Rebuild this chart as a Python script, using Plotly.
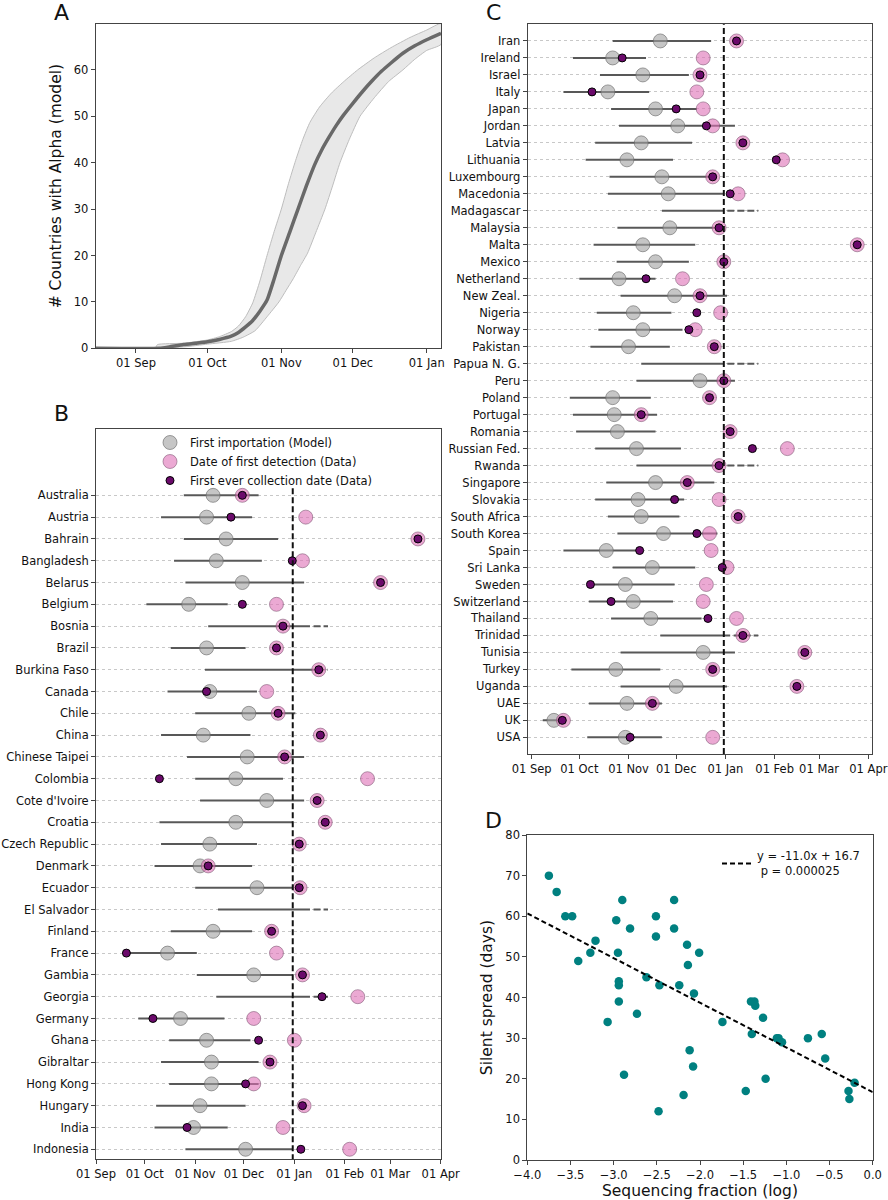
import numpy as np
import pandas as pd
import plotly.graph_objects as go

BASE = pd.Timestamp("2020-09-01")  # day 0 for all "days" arrays below

# ---------------- Panel A: countries with Alpha (model) ----------------
a_median_days = [-17, 10, 14, 20, 25, 30, 35, 40, 43, 46, 49, 52, 55, 58, 61, 64.5, 68, 71.5, 75, 78, 81, 84, 87,
                 91, 95, 99, 103, 107, 112, 117, 122, 128]
a_median = [0, 0, 0.3, 0.8, 1.1, 1.4, 1.9, 2.6, 3.4, 4.6, 6, 8, 10.4, 15, 20, 25, 30, 35, 39.6, 42.8, 45.5, 48,
            50.2, 52.8, 55.3, 57.6, 59.7, 61.5, 63.6, 65.2, 66.5, 67.9]
a_upper_days = [-17, 8, 9, 20, 30, 35, 40, 43, 46, 49, 52, 55, 58, 61, 64, 67, 70, 73, 77, 82, 87, 93, 100, 107,
                115, 122, 128]
a_upper = [0, 0, 0.8, 1.1, 1.8, 2.5, 3.6, 4.8, 6.8, 9.8, 14.5, 20, 25.2, 30, 35.5, 40.5, 45, 48.7, 52, 55, 57.4,
           60, 62.6, 64.8, 67, 68.6, 70]
a_lower_days = [-17, 20, 30, 40, 45, 50, 55, 60, 63, 66, 69, 72, 75.5, 79.3, 82.5, 85.6, 89.5, 94, 100, 106, 112,
                117, 122, 128]
a_lower = [0, 0.3, 0.9, 1.5, 2.4, 3.8, 6.8, 10, 12.5, 15, 17.8, 20.5, 25, 30, 35, 40, 45, 50, 54, 57.5, 60, 62.3,
           64.2, 65.5]

# ---------------- Panel B ----------------
b_countries = ["Australia", "Austria", "Bahrain", "Bangladesh", "Belarus", "Belgium", "Bosnia", "Brazil",
               "Burkina Faso", "Canada", "Chile", "China", "Chinese Taipei", "Colombia", "Cote d'Ivoire",
               "Croatia", "Czech Republic", "Denmark", "Ecuador", "El Salvador", "Finland", "France", "Gambia",
               "Georgia", "Germany", "Ghana", "Gibraltar", "Hong Kong", "Hungary", "India", "Indonesia"]
b_model = [72, 68, 80, 74, 90, 57, None, 68, None, 70, 94, 66, 93, 86, 105, 86, 70, 64, 99, None, 72, 44, 97,
           None, 52, 68, 71, 71, 64, 60, 92]
b_ci_lo = [54, 40, 54, 48, 55, 31, 69, 46, 67, 44, 61, 40, 56, 61, 64, 39, 40, 36, 61, 75, 46, 19, 62, 74, 26,
           45, 40, 45, 37, 36, 55]
b_ci_hi = [100, 96, 112, 102, 128, 81, 131.6, 92, 134, 99, 122.6, 95, 128, 115, 128, 121, 99, 96, 121, 131.6,
           96, 62, 121, 131.6, 79, 95, 100, 100, 92, 81, 121]
b_ci_ext = [None, None, None, None, None, None, 142.7, None, 142.7, None, None, None, None, None, None, None,
            None, None, None, 142.7, None, None, None, 142.7, None, None, None, None, None, None, None]
b_detect = [90, 129, 198, 127, 175, 111, 115, 111, 137, 105, 112, 138, 116, 167, 136, 141, 125, 69, 125.5, None,
            108, 111, 127, 161, 97, 122, 107, 97, 128, 115, 156]
b_collect = [90, 83, 198, 120.7, 175, 90, 115, 111, 137, 68, 112, 138, 116, 39, 136, 141, 125, 69, 125, None,
             108, 18.7, 127, 139, 35, 100, 107, 92, 127, 56, 126]

# ---------------- Panel C ----------------
c_countries = ["Iran", "Ireland", "Israel", "Italy", "Japan", "Jordan", "Latvia", "Lithuania", "Luxembourg",
               "Macedonia", "Madagascar", "Malaysia", "Malta", "Mexico", "Netherland", "New Zeal.", "Nigeria",
               "Norway", "Pakistan", "Papua N. G.", "Peru", "Poland", "Portugal", "Romania", "Russian Fed.",
               "Rwanda", "Singapore", "Slovakia", "South Africa", "South Korea", "Spain", "Sri Lanka", "Sweden",
               "Switzerland", "Thailand", "Trinidad", "Tunisia", "Turkey", "Uganda", "UAE", "UK", "USA"]
c_model = [81, 51, 70, 48, 78, 92, 69, 60, 82, 86, None, 87, 70, 78, 55, 90, 64, 70, 61, None, 106, 51, 52, 54,
           66, None, 78, 67, 69, 83, 47, 76, 59, 64, 75, None, 108, 53, 91, 60, 14, 59]
c_ci_lo = [51, 26, 43, 20, 50, 55, 40, 34, 49, 48, 82, 54, 39, 53.5, 30, 56, 41, 42, 37, 69, 66, 24, 26, 28, 40,
           66, 47, 40, 48, 54, 20, 51, 37, 36, 50, 81, 56, 25, 56, 36, 7, 35]
c_ci_hi = [113, 72, 99, 74, 104, 128, 101, 89, 112, 121, 121, 121, 103, 99, 78, 123, 88, 95, 87, 121, 128, 75,
           79, 78, 94, 121, 115, 96, 93, 117, 68, 103, 90, 89, 107, 125, 128, 81, 123, 82, 19, 82]
c_ci_ext = [None] * 10 + [142.7] + [None] * 8 + [142.7] + [None] * 5 + [142.7] + [None] * 9 + [142.7] + [None] * 6
c_detect = [129, 108, 106, 104, 108, 114, 133, 158, 114, 130, None, 118, 205, 121, 95, 106, 119, 103, 115, None,
            121, 112, 69, 125, 161, 118, 98, 118, 130, 112, 113, 123, 110, 108, 129, 133, 172, 114, 167, 76, 20, 114]
c_collect = [129, 57, 106, 38, 91, 110, 133, 154, 114, 125, None, 118, 205, 121, 72, 106, 104, 99, 115, None,
             121, 112, 69, 125, 139, 118, 98, 90, 130, 104, 68, 120, 37, 50, 111, 133, 172, 114, 167, 76, 19.3, 62]

cutoff_day = 121  # vertical dashed reference (31 Dec)

# ---------------- Panel D ----------------
d_seqfrac = [-3.75, -3.66, -3.56, -3.48, -3.41, -3.27, -3.21, -3.07, -2.97, -2.95, -2.94, -2.94, -2.94, -2.90,
             -2.88, -2.81, -2.73, -2.62, -2.51, -2.51, -2.48, -2.47, -2.30, -2.30, -2.24, -2.19, -2.15, -2.14,
             -2.12, -2.08, -2.07, -2.01, -1.74, -1.47, -1.41, -1.40, -1.37, -1.36, -1.27, -1.24, -1.11, -1.09,
             -1.05, -0.75, -0.59, -0.55, -0.28, -0.27, -0.21]
d_silent = [70, 66, 60, 60, 49, 51, 54, 34, 59, 51, 44, 43, 39, 64, 21, 57, 36, 45, 60, 55, 12, 43, 64, 57, 43,
            16, 53, 48, 27, 23, 41, 51, 34, 17, 39, 31, 39, 38, 35, 20, 30, 30, 29, 30, 31, 25, 17, 15, 19]
d_slope, d_intercept = -11.0, 16.7
d_pvalue = "0.000025"
d_xfit = [-4.0, 0.0]


def to_dates(days):
    return [None if d is None else BASE + pd.Timedelta(days=float(d)) for d in days]


FONT = "DejaVu Sans"
GRAY_FILL = "rgba(160,160,160,0.6)"
GRAY_EDGE = "rgba(100,100,100,0.6)"
PINK_FILL = "rgba(222,112,182,0.6)"
PINK_EDGE = "rgba(120,80,110,0.55)"
PURPLE = "#6b0a6b"
CI_COLOR = "#585858"

fig = go.Figure()

# ---- Panel A
poly_days = list(a_upper_days) + list(a_lower_days[::-1])
poly_vals = list(a_upper) + list(a_lower[::-1])
fig.add_trace(go.Scatter(x=to_dates(poly_days), y=poly_vals, fill="toself", fillcolor="#e8e8e8",
                         line=dict(color="#bdbdbd", width=1, shape="spline", smoothing=0.5), mode="lines",
                         showlegend=False, xaxis="x", yaxis="y"))
fig.add_trace(go.Scatter(x=to_dates(a_median_days), y=a_median, mode="lines",
                         line=dict(color="#696969", width=3.5, shape="spline", smoothing=0.5),
                         showlegend=False, xaxis="x", yaxis="y"))


def panel_traces(countries, model, lo, hi, ext, detect, collect, xa, ya, legend):
    n = len(countries)
    sx, sy, dx, dy = [], [], [], []
    for i in range(n):
        sx += [lo[i], hi[i], None]
        sy += [i, i, None]
        if ext[i] is not None:
            dx += [hi[i] + 2.2, ext[i], None]
            dy += [i, i, None]
    fig.add_trace(go.Scatter(x=to_dates(sx), y=sy, mode="lines", line=dict(color=CI_COLOR, width=2),
                             showlegend=False, xaxis=xa, yaxis=ya, connectgaps=False))
    fig.add_trace(go.Scatter(x=to_dates(dx), y=dy, mode="lines",
                             line=dict(color=CI_COLOR, width=2, dash="7px,3px"),
                             showlegend=False, xaxis=xa, yaxis=ya, connectgaps=False))
    idx = list(range(n))
    show = legend is not None
    kw = dict(legend=legend) if show else {}
    fig.add_trace(go.Scatter(x=to_dates(model), y=idx, mode="markers", name="First importation (Model)",
                             marker=dict(size=14, color=GRAY_FILL, line=dict(color=GRAY_EDGE, width=1)),
                             showlegend=show, xaxis=xa, yaxis=ya, **kw))
    fig.add_trace(go.Scatter(x=to_dates(detect), y=idx, mode="markers", name="Date of first detection (Data)",
                             marker=dict(size=14, color=PINK_FILL, line=dict(color=PINK_EDGE, width=1)),
                             showlegend=show, xaxis=xa, yaxis=ya, **kw))
    fig.add_trace(go.Scatter(x=to_dates(collect), y=idx, mode="markers", name="First ever collection date (Data)",
                             marker=dict(size=8, color=PURPLE, line=dict(color="black", width=1)),
                             showlegend=show, xaxis=xa, yaxis=ya, **kw))


panel_traces(b_countries, b_model, b_ci_lo, b_ci_hi, b_ci_ext, b_detect, b_collect, "x2", "y2", "legend")
panel_traces(c_countries, c_model, c_ci_lo, c_ci_hi, c_ci_ext, c_detect, c_collect, "x3", "y3", None)

# ---- Panel D
fig.add_trace(go.Scatter(x=d_seqfrac, y=d_silent, mode="markers", marker=dict(size=8.5, color="#008080"),
                         showlegend=False, xaxis="x4", yaxis="y4"))
xfit = np.array(d_xfit)
fig.add_trace(go.Scatter(x=xfit, y=d_slope * xfit + d_intercept, mode="lines",
                         line=dict(color="black", width=2, dash="5px,3px"),
                         name=f"y = {d_slope:.1f}x + {d_intercept:.1f}<br> p = {d_pvalue}",
                         showlegend=True, legend="legend2", xaxis="x4", yaxis="y4"))

# reference dashed lines in B (below the legend) and C (full height)
cd = BASE + pd.Timedelta(days=cutoff_day)
fig.add_shape(type="line", xref="x2", yref="y2", x0=cd, x1=cd, y0=-0.32, y1=30.46,
              line=dict(color="#111111", width=2, dash="6px,3px"))
fig.add_shape(type="line", xref="x3", yref="y3 domain", x0=cd, x1=cd, y0=0, y1=1,
              line=dict(color="#111111", width=2, dash="6px,3px"))

W, H = 888, 1200


def dom_x(a, b):
    return [a / W, b / W]


def dom_y(top, bottom):
    return [1 - bottom / H, 1 - top / H]


axis_common = dict(showline=True, mirror=True, linecolor="#444444", linewidth=1, ticks="outside", ticklen=4,
                   tickcolor="#444444", tickfont=dict(family=FONT, size=11.5, color="#111111"), zeroline=False,
                   showgrid=False, automargin=False)

month_axis = dict(tickformat="%d %b", dtick="M1", tick0="2020-09-01", type="date")

fig.update_layout(
    width=W, height=H, autosize=False, margin=dict(l=0, r=0, t=0, b=0, autoexpand=False),
    plot_bgcolor="white", paper_bgcolor="white",
    font=dict(family=FONT, color="#111111"),
    xaxis=dict(domain=dom_x(95.7, 441), range=[BASE + pd.Timedelta(days=-16.9), BASE + pd.Timedelta(days=128)],
               anchor="y", **month_axis, **axis_common),
    yaxis=dict(domain=dom_y(24, 348.3), range=[0, 69.9], dtick=10, anchor="x",
               title=dict(text="# Countries with Alpha (model)", font=dict(size=15.5), standoff=8),
               **axis_common),
    xaxis2=dict(domain=dom_x(96, 440.7), range=[BASE, BASE + pd.Timedelta(days=212)], anchor="y2",
                **month_axis, **axis_common),
    yaxis2=dict(domain=dom_y(429.3, 1159.3), range=[30.46, -3.03], anchor="x2",
                tickvals=list(range(len(b_countries))), ticktext=b_countries,
                **{**axis_common, "showgrid": True}, gridcolor="#c8c8c8", griddash="dot", gridwidth=1),
    xaxis3=dict(domain=dom_x(527.7, 872.3), range=[BASE + pd.Timedelta(days=-2.5), BASE + pd.Timedelta(days=214.5)],
                anchor="y3", **month_axis, **axis_common),
    yaxis3=dict(domain=dom_y(24.3, 754), range=[41.98, -0.98], anchor="x3",
                tickvals=list(range(len(c_countries))), ticktext=c_countries,
                **{**axis_common, "showgrid": True}, gridcolor="#c8c8c8", griddash="dot", gridwidth=1),
    xaxis4=dict(domain=dom_x(527.3, 872.7), range=[-4, 0], dtick=0.5, tickformat=".1f", anchor="y4",
                title=dict(text="Sequencing fraction (log)", font=dict(size=15.5), standoff=4), **axis_common),
    yaxis4=dict(domain=dom_y(835, 1160), range=[0, 80], dtick=10, anchor="x4",
                title=dict(text="Silent spread (days)", font=dict(size=15.5), standoff=8), **axis_common),
    legend=dict(x=150 / W, y=1 - 428 / H, xanchor="left", yanchor="top", bgcolor="rgba(0,0,0,0)",
                font=dict(family=FONT, size=11.5), itemsizing="trace", tracegroupgap=0),
    legend2=dict(x=717 / W, y=1 - 842 / H, xanchor="left", yanchor="top", bgcolor="rgba(0,0,0,0)",
                 font=dict(family=FONT, size=11.5)),
)

letters = [("A", 62, 12), ("B", 62, 414), ("C", 493, 12), ("D", 493, 820)]
for t, px, py in letters:
    fig.add_annotation(text=t, x=px / W, y=1 - py / H, xref="paper", yref="paper", showarrow=False,
                       font=dict(family=FONT, size=22, color="#111111"), xanchor="center", yanchor="middle")

fig.write_html("out.html", config={"displayModeBar": False},
               post_script="document.body.style.margin='0';")
